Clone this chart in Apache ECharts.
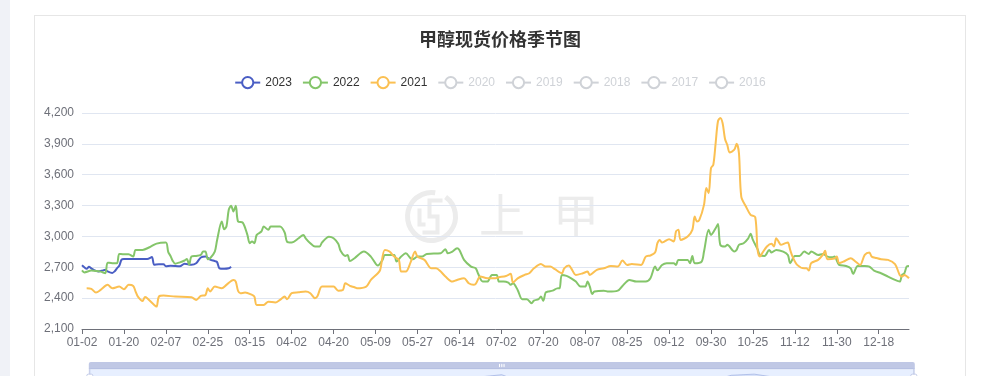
<!DOCTYPE html>
<html>
<head>
<meta charset="utf-8">
<title>甲醇现货价格季节图</title>
<script src="https://cdn.jsdelivr.net/npm/echarts@6/dist/echarts.min.js"></script>
<style>
  html, body {margin: 0; padding: 0; background: #fff; overflow: hidden}
  body {width: 983px; height: 376px; position: relative}
  .side {position: absolute; left: 0; top: 0; width: 10px; height: 376px; background: #f0f2f7}
  .card {position: absolute; left: 34px; top: 15px; width: 930px; height: 400px; border: 1px solid #e6e6e6; background: #fff}
  #chart {position: absolute; left: 35px; top: 16px; width: 930px; height: 360px}
</style>
</head>
<body>
<div class="side"></div>
<div class="card"></div>
<div id="chart"></div>
<script>
// 季节图横轴：MM-DD，去掉 01-01、05-01 和国庆 10-01~10-07
const monthDays = [31, 28, 31, 30, 31, 30, 31, 31, 30, 31, 30, 31]
const skipDays = ['01-01', '05-01', '10-01', '10-02', '10-03', '10-04', '10-05', '10-06', '10-07']
const days = []
monthDays.forEach((n, m) => {
  for (let d = 1; d <= n; d++) {
    const k = `${String(m + 1).padStart(2, '0')}-${String(d).padStart(2, '0')}`
    if (!skipDays.includes(k)) days.push(k)
  }
})

const years = ['2023', '2022', '2021', '2020', '2019', '2018', '2017', '2016']
const hidden = ['2020', '2019', '2018', '2017', '2016']

const yTicks = {min: 2100, max: 4200, step: 300}

// 价格 [日期, 元/吨]
const p2023 = [
  ['01-02', 2720], ['01-03', 2700], ['01-04', 2685], ['01-05', 2705], ['01-06', 2690],
  ['01-07', 2675], ['01-09', 2660], ['01-11', 2670], ['01-12', 2675], ['01-13', 2660],
  ['01-15', 2645], ['01-16', 2660], ['01-17', 2690], ['01-18', 2715], ['01-19', 2775],
  ['01-20', 2780], ['01-25', 2780], ['01-30', 2780], ['02-01', 2800], ['02-02', 2725],
  ['02-04', 2730], ['02-06', 2730], ['02-07', 2710], ['02-09', 2715], ['02-13', 2710],
  ['02-15', 2735], ['02-18', 2725], ['02-20', 2740], ['02-22', 2795], ['02-24', 2805],
  ['02-26', 2775], ['02-28', 2760], ['03-01', 2750], ['03-02', 2690], ['03-04', 2685],
  ['03-06', 2690], ['03-07', 2705],
]

const p2022 = [
  ['01-02', 2670], ['01-03', 2650], ['01-06', 2668], ['01-08', 2665], ['01-10', 2658],
  ['01-12', 2642], ['01-13', 2745], ['01-15', 2740], ['01-17', 2740], ['01-18', 2830],
  ['01-20', 2827], ['01-22', 2827], ['01-24', 2804], ['01-25', 2869], ['01-28', 2869],
  ['01-31', 2895], ['02-03', 2930], ['02-07', 2940], ['02-08', 2850], ['02-09', 2810],
  ['02-10', 2760], ['02-11', 2735], ['02-13', 2748], ['02-15', 2766], ['02-16', 2780],
  ['02-17', 2725], ['02-18', 2804], ['02-20', 2810], ['02-22', 2820], ['02-23', 2853],
  ['02-24', 2853], ['02-25', 2778], ['02-26', 2788], ['02-28', 2853], ['03-01', 2966],
  ['03-03', 3145], ['03-04', 3070], ['03-05', 3096], ['03-06', 3259], ['03-07', 3298],
  ['03-08', 3243], ['03-09', 3298], ['03-10', 3145], ['03-12', 3135], ['03-14', 3015],
  ['03-15', 2934], ['03-16', 2950], ['03-17', 2934], ['03-18', 3015], ['03-20', 3048],
  ['03-21', 3096], ['03-23', 3064], ['03-24', 3096], ['03-28', 3096], ['03-30', 3038],
  ['03-31', 2950], ['04-02', 2940], ['04-05', 2982], ['04-07', 3015], ['04-08', 2982],
  ['04-10', 2934], ['04-12', 2902], ['04-14', 2902], ['04-15', 2940], ['04-18', 2998],
  ['04-20', 2982], ['04-22', 2928], ['04-23', 2860], ['04-25', 2810], ['04-26', 2820],
  ['04-27', 2760], ['04-29', 2788], ['05-04', 2853], ['05-07', 2804], ['05-10', 2717],
  ['05-12', 2772], ['05-13', 2820], ['05-17', 2820], ['05-18', 2756], ['05-20', 2804],
  ['05-22', 2837], ['05-24', 2788], ['05-25', 2778], ['05-27', 2804], ['05-29', 2804],
  ['05-31', 2830], ['06-06', 2837], ['06-08', 2876], ['06-09', 2837], ['06-11', 2853],
  ['06-13', 2886], ['06-14', 2869], ['06-16', 2772], ['06-19', 2707], ['06-21', 2690],
  ['06-22', 2640], ['06-24', 2561], ['06-26', 2561], ['06-28', 2626], ['06-30', 2626],
  ['07-01', 2561], ['07-03', 2561], ['07-05', 2551], ['07-06', 2529], ['07-07', 2545],
  ['07-09', 2480], ['07-11', 2389], ['07-13', 2389], ['07-15', 2350], ['07-16', 2376],
  ['07-18', 2390], ['07-19', 2415], ['07-20', 2375], ['07-21', 2454], ['07-22', 2464],
  ['07-24', 2473], ['07-26', 2495], ['07-27', 2496], ['07-28', 2626], ['07-30', 2616],
  ['08-01', 2593], ['08-03', 2561], ['08-05', 2512], ['08-07', 2512], ['08-08', 2561],
  ['08-09', 2512], ['08-10', 2441], ['08-11', 2464], ['08-15', 2473], ['08-17', 2464],
  ['08-21', 2473], ['08-23', 2519], ['08-26', 2577], ['08-29', 2561], ['09-02', 2561],
  ['09-04', 2593], ['09-06', 2707], ['09-07', 2670], ['09-09', 2723], ['09-11', 2740],
  ['09-14', 2740], ['09-15', 2723], ['09-16', 2772], ['09-20', 2772], ['09-21', 2740],
  ['09-22', 2810], ['09-23', 2740], ['09-26', 2756], ['09-27', 2853], ['09-29', 3064],
  ['09-30', 3015], ['10-09', 3080], ['10-10', 3122], ['10-11', 2918], ['10-13', 2902],
  ['10-14', 2918], ['10-17', 2853], ['10-18', 2869], ['10-19', 2918], ['10-21', 2934],
  ['10-23', 2982], ['10-24', 3025], ['10-25', 2966], ['10-27', 2876], ['10-28', 2820],
  ['10-30', 2810], ['11-01', 2869], ['11-02', 2843], ['11-04', 2869], ['11-07', 2853],
  ['11-09', 2820], ['11-10', 2740], ['11-12', 2810], ['11-14', 2810], ['11-16', 2853],
  ['11-18', 2830], ['11-19', 2853], ['11-22', 2820], ['11-24', 2830], ['11-26', 2804],
  ['11-28', 2798], ['11-29', 2804], ['12-01', 2723], ['12-04', 2713], ['12-06', 2690],
  ['12-07', 2636], ['12-09', 2713], ['12-12', 2713], ['12-14', 2707], ['12-16', 2668],
  ['12-19', 2642], ['12-22', 2610], ['12-25', 2577], ['12-27', 2561], ['12-28', 2626],
  ['12-29', 2642], ['12-30', 2707], ['12-31', 2713],
]

const p2021 = [
  ['01-04', 2496], ['01-06', 2490], ['01-08', 2454], ['01-10', 2480], ['01-13', 2529],
  ['01-15', 2496], ['01-18', 2512], ['01-20', 2486], ['01-22', 2529], ['01-24', 2519],
  ['01-25', 2464], ['01-26', 2415], ['01-28', 2373], ['01-29', 2410], ['01-30', 2399],
  ['02-02', 2334], ['02-03', 2318], ['02-04', 2415], ['02-06', 2425], ['02-11', 2415],
  ['02-18', 2409], ['02-20', 2383], ['02-22', 2422], ['02-24', 2431], ['02-25', 2496],
  ['02-26', 2464], ['02-28', 2512], ['03-03', 2496], ['03-05', 2529], ['03-08', 2577],
  ['03-09', 2561], ['03-10', 2470], ['03-11', 2448], ['03-13', 2454], ['03-16', 2431],
  ['03-17', 2415], ['03-18', 2334], ['03-21', 2334], ['03-23', 2366], ['03-26', 2357],
  ['03-28', 2383], ['03-30', 2415], ['03-31', 2389], ['04-02', 2448], ['04-05', 2457],
  ['04-08', 2464], ['04-10', 2448], ['04-12', 2399], ['04-13', 2415], ['04-15', 2512],
  ['04-18', 2512], ['04-20', 2512], ['04-22', 2473], ['04-24', 2480], ['04-25', 2545],
  ['04-27', 2520], ['04-29', 2506], ['04-30', 2496], ['05-05', 2512], ['05-07', 2577],
  ['05-10', 2642], ['05-11', 2675], ['05-13', 2869], ['05-15', 2853], ['05-17', 2804],
  ['05-19', 2772], ['05-20', 2658], ['05-22', 2658], ['05-24', 2745], ['05-26', 2853],
  ['05-27', 2804], ['05-30', 2772], ['06-02', 2690], ['06-04', 2690], ['06-06', 2658],
  ['06-08', 2610], ['06-11', 2561], ['06-13', 2577], ['06-16', 2593], ['06-18', 2545],
  ['06-20', 2529], ['06-21', 2538], ['06-23', 2610], ['06-26', 2593], ['06-29', 2593],
  ['07-01', 2603], ['07-04', 2616], ['07-06', 2636], ['07-07', 2551], ['07-09', 2593],
  ['07-12', 2626], ['07-14', 2642], ['07-16', 2690], ['07-19', 2733], ['07-21', 2707],
  ['07-23', 2707], ['07-25', 2681], ['07-28', 2642], ['07-29', 2690], ['07-31', 2717],
  ['08-01', 2690], ['08-03', 2626], ['08-06', 2642], ['08-08', 2658], ['08-09', 2626],
  ['08-12', 2675], ['08-15', 2690], ['08-18', 2713], ['08-21', 2707], ['08-23', 2766],
  ['08-25', 2723], ['08-27', 2733], ['08-31', 2723], ['09-02', 2804], ['09-04', 2815],
  ['09-06', 2843], ['09-07', 2934], ['09-08', 2966], ['09-09', 2940], ['09-10', 2950],
  ['09-12', 2973], ['09-14', 2950], ['09-15', 3050], ['09-16', 3064], ['09-17', 2966],
  ['09-20', 3000], ['09-22', 3064], ['09-23', 3194], ['09-24', 3145], ['09-25', 3161],
  ['09-27', 3307], ['09-28', 3470], ['09-29', 3421], ['09-30', 3664], ['10-08', 3697],
  ['10-09', 3908], ['10-10', 4120], ['10-11', 4151], ['10-12', 4100], ['10-13', 3950],
  ['10-14', 3890], ['10-15', 3817], ['10-17', 3843], ['10-18', 3901], ['10-19', 3810],
  ['10-20', 3388], ['10-22', 3291], ['10-24', 3210], ['10-26', 3187], ['10-27', 2869],
  ['10-28', 2804], ['10-29', 2837], ['10-31', 2902], ['11-02', 2928], ['11-03', 2902],
  ['11-04', 2982], ['11-05', 2950], ['11-06', 2918], ['11-08', 2935], ['11-09', 2940],
  ['11-10', 2869], ['11-11', 2804], ['11-13', 2723], ['11-16', 2690], ['11-17', 2690],
  ['11-18', 2668], ['11-19', 2740], ['11-22', 2772], ['11-24', 2820], ['11-25', 2860],
  ['11-26', 2778], ['11-29', 2785], ['11-30', 2804], ['12-01', 2740], ['12-03', 2756],
  ['12-06', 2788], ['12-08', 2756], ['12-10', 2723], ['12-12', 2820], ['12-14', 2843],
  ['12-15', 2804], ['12-17', 2790], ['12-19', 2778], ['12-22', 2772], ['12-25', 2730],
  ['12-27', 2626], ['12-28', 2610], ['12-29', 2626], ['12-31', 2593],
]

const prices = {'2023': p2023, '2022': p2022, '2021': p2021}
const colors = ['#4a5ec4', '#84c56a', '#fbc052', '#ee6666', '#73c0de', '#3ba272', '#fc8452', '#9a60b4']

const chart = echarts.init(document.getElementById('chart'))

const selected = {}
hidden.forEach(y => (selected[y] = false))

const mark = '#ececec' // 水印颜色

const option = {
  color: colors,
  textStyle: {fontFamily: "'Liberation Sans', 'Noto Sans CJK SC', sans-serif"},
  title: {
    text: '甲醇现货价格季节图',
    left: 'center',
    top: 9,
    textStyle: {fontSize: 18, fontWeight: 'bold', color: '#333', fontFamily: "'Noto Sans CJK SC', sans-serif"},
  },
  tooltip: {trigger: 'axis'},
  legend: {
    data: years,
    selected,
    top: 55,
    left: 'center',
    itemGap: 10,
    textStyle: {fontSize: 12, color: '#333'},
  },
  grid: {left: 47, right: 56, top: 97, height: 216},
  xAxis: {
    type: 'category',
    data: days,
    boundaryGap: false,
    axisLine: {lineStyle: {color: '#6e7079'}},
    axisTick: {interval: 17},
    axisLabel: {interval: 17, color: '#6e7079', fontSize: 12},
  },
  yAxis: {
    type: 'value',
    min: yTicks.min,
    max: yTicks.max,
    interval: yTicks.step,
    axisLabel: {color: '#6e7079', fontSize: 12, formatter: v => v.toLocaleString('en-US')},
    splitLine: {lineStyle: {color: '#e0e6f1'}},
  },
  dataZoom: [
    {type: 'slider', xAxisIndex: 0, start: 0, end: 100, top: 346, left: 51, right: 53, height: 30},
  ],
  graphic: [
    {
      type: 'group',
      left: 370,
      top: 174,
      silent: true,
      z: -1,
      children: [
        {
          type: 'arc',
          shape: {cx: 25, cy: 25, r: 24, startAngle: -Math.PI * 0.3, endAngle: Math.PI * 1.55},
          style: {stroke: mark, lineWidth: 5, fill: null},
        },
        {
          type: 'polyline',
          shape: {points: [[36, 9], [23, 9], [23, 25], [31, 25], [31, 41], [16, 41]]},
          style: {stroke: mark, lineWidth: 4, fill: null},
        },
        {
          type: 'polyline',
          shape: {points: [[13, 17], [13, 33], [19, 33]]},
          style: {stroke: mark, lineWidth: 4, fill: null},
        },
      ],
    },
    {
      type: 'text',
      left: 444,
      top: 176,
      silent: true,
      z: -1,
      style: {text: '上', fontSize: 46, fill: mark, fontFamily: "'Noto Sans CJK SC', sans-serif"},
    },
    {
      type: 'text',
      left: 518,
      top: 176,
      silent: true,
      z: -1,
      style: {text: '甲', fontSize: 46, fill: mark, fontFamily: "'Noto Sans CJK SC', sans-serif"},
    },
  ],
  series: years.map(y => ({
    name: y,
    type: 'line',
    data: prices[y] || [],
    smooth: 0.3,
    symbol: 'emptyCircle',
    showSymbol: false,
    connectNulls: true,
    lineStyle: {width: 2},
  })),
}

chart.setOption(option)
</script>
</body>
</html>
